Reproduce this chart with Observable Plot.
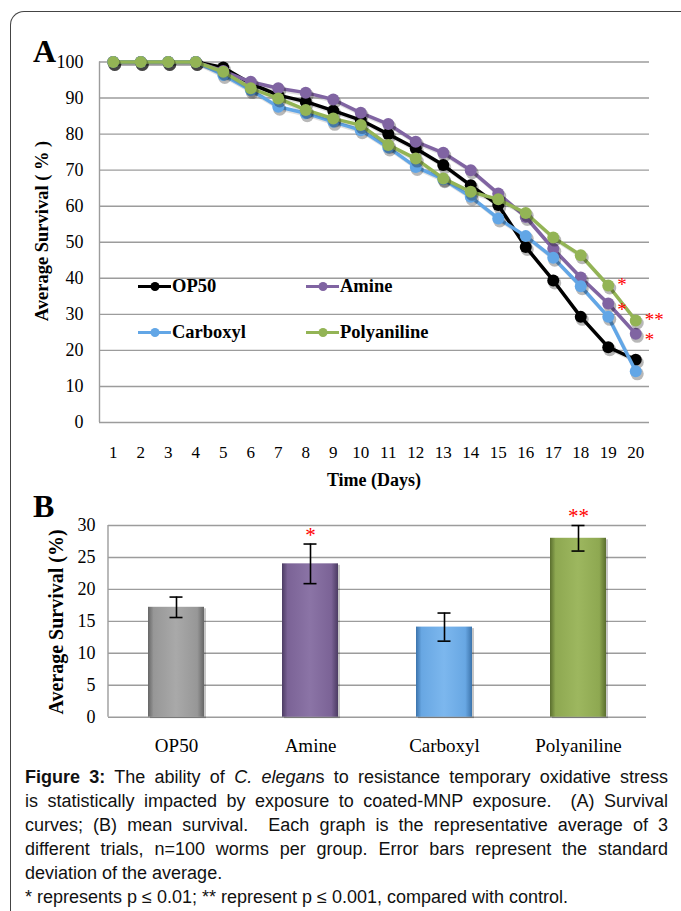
<!DOCTYPE html>
<html><head><meta charset="utf-8">
<script src="https://cdn.jsdelivr.net/npm/d3@7"></script>
<script src="https://cdn.jsdelivr.net/npm/@observablehq/plot@0.6"></script>
<style>
html,body{margin:0;padding:0;background:#fff;}
#page{position:relative;width:681px;height:911px;overflow:hidden;background:#fff;}
.frame{position:absolute;left:10px;top:11px;width:720px;height:940px;border-left:1.5px solid #444;border-top:1.5px solid #444;border-top-left-radius:14px;box-sizing:border-box;}
.panel{position:absolute;left:0;}
.letter{position:absolute;font-family:"Liberation Serif";font-weight:bold;font-size:32px;line-height:1;color:#000;}
.rot{position:absolute;font-family:"Liberation Serif";font-weight:bold;white-space:nowrap;transform:translate(-50%,-50%) rotate(-90deg);line-height:1;color:#000;}
.xlab{position:absolute;font-family:"Liberation Serif";font-weight:bold;font-size:18px;white-space:nowrap;transform:translate(-50%,-50%);line-height:1;color:#000;}
.leg{position:absolute;display:flex;align-items:center;font-family:"Liberation Serif";font-weight:bold;font-size:18.5px;transform:translateY(-50%);white-space:nowrap;color:#000;}
.caption{position:absolute;left:25px;top:765px;width:643px;font-family:"Liberation Sans",Arial,sans-serif;font-size:18px;line-height:24px;color:#111;}
.caption .j{text-align:justify;text-align-last:justify;}
.caption .l{text-align:left;}
</style>
</head>
<body>
<div id="page">
  <div class="frame"></div>
  <div id="panelA" class="panel" style="top:0"></div>
  <div id="panelB" class="panel" style="top:490px"></div>
  <div class="letter" style="left:33px;top:35px">A</div>
  <div class="letter" style="left:33px;top:490px">B</div>
  <div class="rot" style="left:42px;top:231px;font-size:18.5px">Average Survival ( % )</div>
  <div class="xlab" style="left:374px;top:480px">Time (Days)</div>
  <div class="rot" style="left:56px;top:622px;font-size:20px">Average Survival (%)</div>
  <div id="legend"></div>
  <div class="caption">
    <div class="j"><b>Figure 3:</b> The ability of <i>C. elegan</i>s to resistance temporary oxidative stress</div>
    <div class="j">is statistically impacted by exposure to coated-MNP exposure.&nbsp; (A) Survival</div>
    <div class="j">curves; (B) mean survival.&nbsp; Each graph is the representative average of 3</div>
    <div class="j">different trials, n=100 worms per group. Error bars represent the standard</div>
    <div class="l">deviation of the average.</div>
    <div class="l">* represents p ≤ 0.01; ** represent p ≤ 0.001, compared with control.</div>
  </div>
</div>
<script>
// ---------- Data: panel A ----------
const days = [1,2,3,4,5,6,7,8,9,10,11,12,13,14,15,16,17,18,19,20];
const yTicksA = [0,10,20,30,40,50,60,70,80,90,100];
const seriesNames = ["OP50","Amine","Carboxyl","Polyaniline"];
const op50 =        [100,100,100,100,98.5,94.0,90.8,89.0,86.5,83.9,80.0,76.0,71.4,65.8,60.3,48.7,39.4,29.3,20.9,17.4];
const amine =       [100,100,100,100,97.5,94.5,92.7,91.5,89.6,85.9,82.8,77.9,74.8,70.0,63.5,57.0,48.2,40.2,33.0,24.6];
const carboxyl =    [100,100,100,100,96.4,92.2,87.6,85.8,83.4,81.1,76.3,70.9,67.5,62.6,56.6,51.7,45.7,37.8,29.3,14.2];
const polyaniline = [100,100,100,100,97.3,92.7,89.9,86.7,84.3,82.5,77.0,73.2,67.7,64.0,61.9,58.1,51.3,46.4,38.0,28.3];
const sigSeries = ["Polyaniline","Amine","Polyaniline","Amine"];
const sigDays = [19,19,20,20];
const sigLabels = ["*","*","**","*"];

// ---------- Data: panel B ----------
const groups = ["OP50","Amine","Carboxyl","Polyaniline"];
const means = [17.2,24.0,14.1,28.0];
const sds = [1.6,3.1,2.2,2.0];
const sigB = ["","*","","**"];
const yTicksB = [0,5,10,15,20,25,30];

// ---------- Styles ----------
const lineColors = ["#000000","#8064a2","#62a6e6","#93b455"];
const barGrad = [
  {dark:"#666666", base:"#979797", light:"#a9a9a9"},
  {dark:"#4c3c63", base:"#7b6396", light:"#8b74a6"},
  {dark:"#3c74ac", base:"#68a7e3", light:"#7cb7ee"},
  {dark:"#5a6e2e", base:"#8ea851", light:"#9db75f"}
];
const gridColor = "#9c9c9c";
const baseStyle = {fontFamily:"Liberation Serif", background:"transparent", color:"#000", overflow:"visible"};

// ---------- Panel A ----------
const seriesValues = [op50, amine, carboxyl, polyaniline];
const tidy = seriesNames.flatMap((s,i) => days.map((d,j) => ({series:s, day:d, value:seriesValues[i][j]})));
const sigData = sigSeries.map((s,k) => ({
  series:s, day:sigDays[k], label:sigLabels[k],
  value: tidy.find(d => d.series === s && d.day === sigDays[k]).value
}));

const seriesMarks = seriesNames.flatMap(s => {
  const data = tidy.filter(d => d.series === s);
  return [
    Plot.line(data, {x:"day", y:"value", stroke:"#000", strokeOpacity:0.12, strokeWidth:3.5, dx:1.5, dy:2}),
    Plot.line(data, {x:"day", y:"value", stroke:"series", strokeWidth:3.5}),
    Plot.dot(data, {x:"day", y:"value", fill:"#000", fillOpacity:0.28, r:6.5, dx:1.5, dy:2.5}),
    Plot.dot(data, {x:"day", y:"value", fill:"series", r:6})
  ];
});

const chartA = Plot.plot({
  width:681, height:470,
  marginTop:61.5, marginBottom:48, marginLeft:99, marginRight:32,
  style: baseStyle,
  x: {domain:[0.5,20.5], ticks:days, label:null},
  y: {domain:[0,100], ticks:yTicksA, label:null},
  color: {domain:seriesNames, range:lineColors},
  marks: [
    Plot.gridY(yTicksA, {stroke:gridColor, strokeOpacity:1, strokeWidth:1.4}),
    Plot.ruleX([0.5], {stroke:gridColor, strokeWidth:1.4}),
    Plot.axisY(yTicksA, {tickSize:0, tickPadding:16, fontSize:18, label:null}),
    Plot.axisX(days, {tickSize:0, tickPadding:23, fontSize:17, label:null}),
    ...seriesMarks,
    Plot.text(sigData.filter(d => d.series === "Polyaniline"), {x:"day", y:"value", text:"label", fill:"#ff0000", fontSize:19, textAnchor:"start", dx:9, dy:-1}),
    Plot.text(sigData.filter(d => d.series === "Amine"), {x:"day", y:"value", text:"label", fill:"#ff0000", fontSize:19, textAnchor:"start", dx:9, dy:6})
  ]
});
document.getElementById("panelA").appendChild(chartA);

// Legend (inside panel A)
const legendPos = [
  {left:138, top:286}, {left:306, top:286},
  {left:138, top:332}, {left:306, top:332}
];
const legend = document.getElementById("legend");
seriesNames.forEach((s,i) => {
  const el = document.createElement("div");
  el.className = "leg";
  el.style.left = legendPos[i].left + "px";
  el.style.top = legendPos[i].top + "px";
  el.innerHTML = `<svg width="33" height="12" style="overflow:visible"><line x1="0" y1="6" x2="33" y2="6" stroke="${lineColors[i]}" stroke-width="2.8"/><circle cx="17" cy="6" r="4.5" fill="${lineColors[i]}"/></svg><span style="margin-left:1px">${s}</span>`;
  legend.appendChild(el);
});

// ---------- Panel B ----------
const bData = groups.map((g,i) => ({group:g, mean:means[i], lo:means[i]-sds[i], hi:means[i]+sds[i], sig:sigB[i]}));
const gradIds = groups.map((g,i) => "bargrad" + i);

const leftAxisLine = (index, scales, values, dimensions) => {
  const ns = "http://www.w3.org/2000/svg";
  const l = document.createElementNS(ns, "line");
  const x = dimensions.marginLeft;
  l.setAttribute("x1", x); l.setAttribute("x2", x);
  l.setAttribute("y1", scales.y(30)); l.setAttribute("y2", scales.y(0));
  l.setAttribute("stroke", gridColor); l.setAttribute("stroke-width", 1.4);
  return l;
};

const chartB = Plot.plot({
  width:681, height:270,
  marginTop:35, marginBottom:43.3, marginLeft:108, marginRight:35,
  style: baseStyle,
  x: {domain:groups, paddingInner:0.58, paddingOuter:0.29, label:null},
  y: {domain:[0,30], ticks:yTicksB, label:null},
  color: {domain:groups, range:gradIds.map(id => `url(#${id})`)},
  marks: [
    Plot.gridY(yTicksB, {stroke:gridColor, strokeOpacity:1, strokeWidth:1.4}),
    leftAxisLine,
    Plot.axisY(yTicksB, {tickSize:0, tickPadding:13, fontSize:18, label:null}),
    Plot.axisX(groups, {tickSize:0, tickPadding:21, fontSize:19, label:null}),
    Plot.barY(bData, {x:"group", y:"mean", fill:"#000", fillOpacity:0.22, dx:2, dy:1.5}),
    Plot.barY(bData, {x:"group", y:"mean", fill:"group"}),
    Plot.ruleX(bData, {x:"group", y1:"lo", y2:"hi", stroke:"#000", strokeWidth:1.6}),
    Plot.tickY(bData, {x:"group", y:"lo", stroke:"#000", strokeWidth:1.6, inset:21.5}),
    Plot.tickY(bData, {x:"group", y:"hi", stroke:"#000", strokeWidth:1.6, inset:21.5}),
    Plot.text(bData.filter(d => d.sig), {x:"group", y:"hi", text:"sig", fill:"#ff0000", fontSize:21, dy:-9})
  ]
});
const defs = document.createElementNS("http://www.w3.org/2000/svg", "defs");
defs.innerHTML = barGrad.map((g,i) => `<linearGradient id="${gradIds[i]}" x1="0" x2="1" y1="0" y2="0">
  <stop offset="0" stop-color="${g.dark}"/><stop offset="0.1" stop-color="${g.base}"/>
  <stop offset="0.5" stop-color="${g.light}"/><stop offset="0.88" stop-color="${g.base}"/>
  <stop offset="1" stop-color="${g.dark}"/></linearGradient>`).join("");
chartB.insertBefore(defs, chartB.firstChild);
document.getElementById("panelB").appendChild(chartB);
</script>
</body></html>
